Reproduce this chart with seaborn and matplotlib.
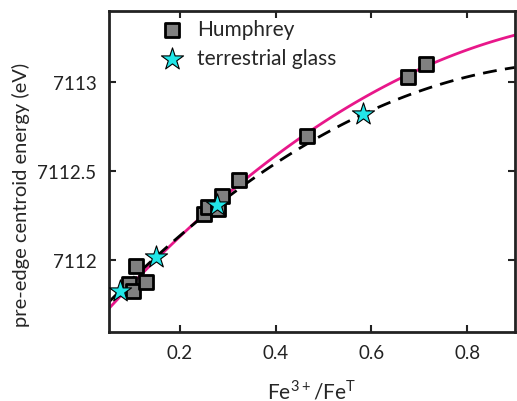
import matplotlib
matplotlib.use("Agg")
import matplotlib.pyplot as plt
import seaborn as sns
import numpy as np

# Humphrey data (Fe3+/FeT, pre-edge centroid energy)
hum_x = [0.094, 0.101, 0.109, 0.129, 0.250, 0.258, 0.280, 0.288, 0.323, 0.465, 0.676, 0.715]
hum_y = [7111.87, 7111.83, 7111.97, 7111.88, 7112.26, 7112.30, 7112.29, 7112.36, 7112.45, 7112.70, 7113.03, 7113.10]
# terrestrial glass
ter_x = [0.075, 0.150, 0.278, 0.583]
ter_y = [7111.83, 7112.02, 7112.31, 7112.82]

sns.set_style("ticks")
plt.rcParams['font.family'] = ['Lato', 'DejaVu Sans']
plt.rcParams['mathtext.fontset'] = 'custom'
plt.rcParams['mathtext.rm'] = 'Lato'

fig = plt.figure(figsize=(5.17, 4.02), dpi=100)
ax = fig.add_axes([0.211, 0.172, 0.785, 0.799])
ax.set_xlim(0.052, 0.9)
ax.set_ylim(7111.60, 7113.40)

# quadratic fits (seaborn regplot, order 2)
sns.regplot(x=np.array(hum_x), y=np.array(hum_y), order=2, ci=None, scatter=False,
            truncate=False, ax=ax, line_kws=dict(color='#e8178a', lw=2))
sns.regplot(x=np.array(ter_x), y=np.array(ter_y), order=2, ci=None, scatter=False,
            truncate=False, ax=ax, line_kws=dict(color='black', lw=2, ls=(0, (5, 3))))

ax.scatter(hum_x, hum_y, marker='s', s=110, c='#808080', edgecolors='black',
           linewidths=2, label='Humphrey', zorder=3)
ax.scatter(ter_x, ter_y, marker='*', s=280, c='#22e6e8', edgecolors='black',
           linewidths=0.8, label='terrestrial glass', zorder=4)

ax.set_xlim(0.052, 0.9)
ax.set_ylim(7111.60, 7113.40)
ax.set_xticks([0.2, 0.4, 0.6, 0.8])
ax.set_xticklabels(['0.2', '0.4', '0.6', '0.8'])
ax.set_yticks([7112, 7112.5, 7113])
ax.set_yticklabels(['7112', '7112.5', '7113'])
ax.tick_params(direction='in', length=5, width=1.5, labelsize=13.5, top=True, right=True,
               colors='#222222', pad=9)
for s in ax.spines.values():
    s.set_linewidth(2)
    s.set_color('#222222')

ax.set_xlabel('Fe$^{3+}$/Fe$^{\\mathrm{T}}$', fontsize=15, labelpad=12)
ax.set_ylabel('pre-edge centroid energy (eV)', fontsize=14.5)
ax.yaxis.set_label_coords(-0.195, 0.43)

ax.legend(loc='upper left', bbox_to_anchor=(0.109, 1.0), frameon=False, fontsize=15,
          handlelength=1.0, handletextpad=0.7, labelspacing=0.45, scatterpoints=1,
          borderaxespad=0)

fig.savefig('out.png', dpi=100)
